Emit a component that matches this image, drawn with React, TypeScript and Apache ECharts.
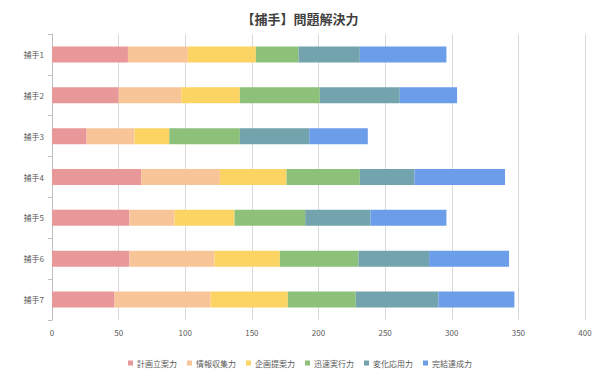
import React, { useEffect, useRef } from "react";
import * as echarts from "echarts";

const categories = ["捕手1", "捕手2", "捕手3", "捕手4", "捕手5", "捕手6", "捕手7"];
const seriesNames = ["計画立案力", "情報収集力", "企画提案力", "迅速実行力", "変化応用力", "完結達成力"];
const planning = [57, 50, 26, 67, 58, 58, 47];
const gathering = [45, 47, 36, 59, 34, 64, 72];
const proposing = [51, 44, 26, 50, 45, 49, 58];
const executing = [32, 60, 53, 55, 53, 59, 51];
const adapting = [46, 60, 52, 41, 49, 53, 62];
const completing = [65, 43, 44, 68, 57, 60, 57];
const xTicks = [0, 50, 100, 150, 200, 250, 300, 350, 400];

const seriesData = [planning, gathering, proposing, executing, adapting, completing];
const colors = ["#E89898", "#F8C598", "#FCD463", "#8DC17A", "#73A3AC", "#6C9DE8"];
const FONT = "'Noto Sans CJK JP', 'Noto Sans', sans-serif";

export default function App() {
  const ref = useRef<HTMLDivElement>(null);
  useEffect(() => {
    const chart = echarts.init(ref.current!, null, { renderer: "svg" });
    chart.setOption({
      animation: false,
      color: colors,
      title: {
        text: "【捕手】問題解決力",
        left: "center",
        top: 7,
        textStyle: { fontFamily: FONT, fontSize: 13, fontWeight: "bold", color: "#404040" },
      },
      legend: {
        bottom: 6,
        left: "center",
        itemWidth: 5,
        itemHeight: 5,
        itemGap: 10,
        icon: "rect",
        textStyle: { fontFamily: FONT, fontSize: 8, color: "#595959", padding: [0, 0, 0, -1] },
        data: seriesNames,
      },
      grid: { left: 52, right: 15, top: 34, bottom: 58, containLabel: false },
      xAxis: {
        type: "value",
        min: xTicks[0],
        max: xTicks[xTicks.length - 1],
        interval: 50,
        axisLine: { show: false },
        axisTick: { show: false },
        axisLabel: { fontFamily: FONT, fontSize: 8, color: "#595959", margin: 8 },
        splitLine: { lineStyle: { color: "#D9D9D9", width: 1 } },
      },
      yAxis: {
        type: "category",
        inverse: true,
        data: categories,
        axisLine: { lineStyle: { color: "#BFBFBF" } },
        axisTick: { show: true, length: 4, lineStyle: { color: "#BFBFBF" } },
        axisLabel: { fontFamily: FONT, fontSize: 8, color: "#595959", margin: 8 },
      },
      series: seriesNames.map((name, i) => ({
        name,
        type: "bar",
        stack: "total",
        barWidth: 16,
        data: seriesData[i],
      })),
    });
    return () => chart.dispose();
  }, []);
  return (
    <div
      ref={ref}
      style={{ position: "absolute", left: 0, top: 0, width: 600, height: 378 }}
    />
  );
}
